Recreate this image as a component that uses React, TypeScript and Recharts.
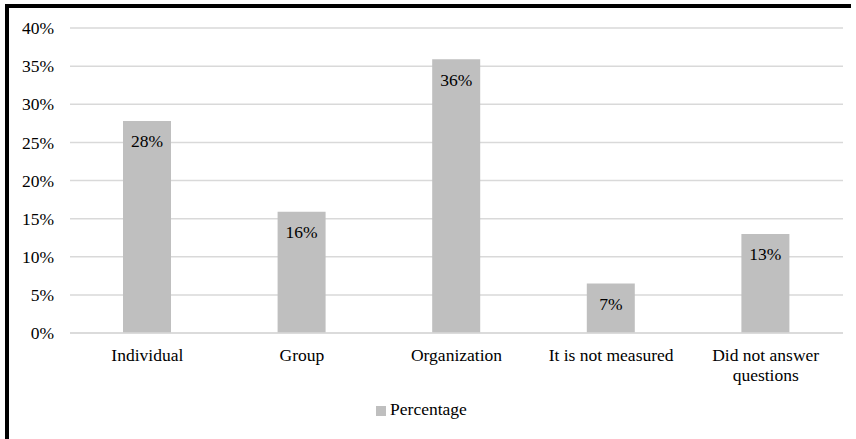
import React from "react";
import {
  BarChart,
  Bar,
  XAxis,
  YAxis,
  CartesianGrid,
  Legend,
  LabelList,
  Text,
} from "recharts";

const categories = [
  "Individual",
  "Group",
  "Organization",
  "It is not measured",
  "Did not answer questions",
];
const percentage = [27.8, 15.9, 35.9, 6.5, 13.0];
const yTicks = [0, 5, 10, 15, 20, 25, 30, 35, 40];

const chartData = categories.map((name, i) => ({
  name,
  Percentage: percentage[i],
}));

const FONT = "Liberation Serif, Times New Roman, serif";
const FS = 17.5;

function CategoryTick(props: any) {
  const { x, y, payload } = props;
  return (
    <Text
      x={x}
      y={y + 8}
      width={130}
      textAnchor="middle"
      verticalAnchor="start"
      lineHeight={20}
      fontFamily={FONT}
      fontSize={FS}
      fill="#000"
    >
      {payload.value}
    </Text>
  );
}

export default function App() {
  return (
    <div
      style={{
        position: "fixed",
        left: 0,
        top: 0,
        width: 856,
        height: 439,
        background: "#fff",
        fontFamily: FONT,
      }}
    >
      <div
        style={{
          position: "absolute",
          left: 5,
          top: 4,
          width: 842,
          height: 440,
          borderTop: "4px solid #000",
          borderLeft: "4px solid #000",
        }}
      />
      <div style={{ position: "absolute", left: 0, top: 0 }}>
        <BarChart
          width={856}
          height={439}
          data={chartData}
          margin={{ top: 28, right: 13, left: 10, bottom: 19 }}
        >
          <CartesianGrid vertical={false} stroke="#d9d9d9" strokeWidth={1.5} />
          <XAxis
            dataKey="name"
            axisLine={{ stroke: "#d9d9d9", strokeWidth: 1.5 }}
            tickLine={false}
            height={66}
            interval={0}
            tick={<CategoryTick />}
          />
          <YAxis
            width={60}
            domain={[0, 40]}
            ticks={yTicks}
            axisLine={false}
            tickLine={false}
            tickMargin={10}
            tickFormatter={(v: number) => `${v}%`}
            tick={{ fill: "#000", fontSize: FS, fontFamily: FONT }}
          />
          <Legend
            verticalAlign="bottom"
            align="center"
            iconType="square"
            iconSize={10}
            formatter={(value: string) => (
              <span style={{ color: "#000", fontSize: FS, fontFamily: FONT }}>
                {value}
              </span>
            )}
          />
          <Bar
            dataKey="Percentage"
            fill="#bfbfbf"
            barSize={48}
            isAnimationActive={false}
          >
            <LabelList
              dataKey="Percentage"
              position="insideTop"
              offset={14}
              formatter={(v: number) => `${Math.round(v)}%`}
              style={{ fill: "#000", fontSize: FS, fontFamily: FONT }}
            />
          </Bar>
        </BarChart>
      </div>
    </div>
  );
}
